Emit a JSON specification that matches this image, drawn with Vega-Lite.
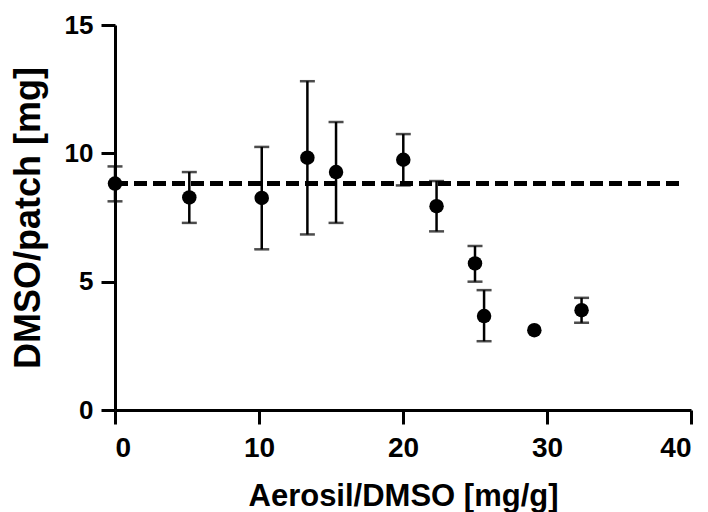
{
  "$schema": "https://vega.github.io/schema/vega-lite/v6.json",
  "width": 576,
  "height": 385,
  "autosize": "none",
  "padding": {"left": 115, "top": 25, "right": 17, "bottom": 102},
  "background": "white",
  "config": {
    "view": {"stroke": null},
    "font": "Liberation Sans",
    "axis": {
      "domainColor": "black",
      "domainWidth": 3,
      "tickColor": "black",
      "tickWidth": 3,
      "tickSize": 14,
      "labelFont": "Liberation Sans",
      "labelFontWeight": "bold",
      "labelFontSize": 28,
      "labelColor": "black",
      "titleFont": "Liberation Sans",
      "titleFontWeight": "bold",
      "titleFontSize": 31,
      "titleColor": "black",
      "grid": false
    }
  },
  "data": {
    "values": [
      {"x": 0, "y": 8.82, "lo": 8.13, "hi": 9.49},
      {"x": 5.16, "y": 8.28, "lo": 7.29, "hi": 9.27},
      {"x": 10.19, "y": 8.26, "lo": 6.26, "hi": 10.25},
      {"x": 13.36, "y": 9.83, "lo": 6.84, "hi": 12.81},
      {"x": 15.35, "y": 9.27, "lo": 7.29, "hi": 11.22},
      {"x": 20.02, "y": 9.75, "lo": 8.75, "hi": 10.75},
      {"x": 22.33, "y": 7.94, "lo": 6.96, "hi": 8.92},
      {"x": 25.0, "y": 5.71, "lo": 5.0, "hi": 6.39},
      {"x": 25.63, "y": 3.66, "lo": 2.68, "hi": 4.67},
      {"x": 29.12, "y": 3.11, "lo": null, "hi": null},
      {"x": 32.4, "y": 3.89, "lo": 3.4, "hi": 4.37}
    ]
  },
  "layer": [
    {
      "mark": {"type": "rule", "strokeWidth": 4, "strokeDash": [13, 6], "color": "black"},
      "encoding": {
        "y": {"datum": 8.82, "type": "quantitative", "scale": {"domain": [0, 15], "nice": false}},
        "x": {"datum": 0, "type": "quantitative", "scale": {"domain": [0, 40], "nice": false}},
        "x2": {"datum": 39.3}
      }
    },
    {
      "transform": [{"filter": "datum.lo != null"}],
      "mark": {"type": "errorbar", "ticks": {"size": 15, "thickness": 2.5, "color": "black"}, "rule": {"strokeWidth": 2.5, "color": "black"}},
      "encoding": {
        "x": {"field": "x", "type": "quantitative", "title": "Aerosil/DMSO [mg/g]"},
        "y": {"field": "lo", "type": "quantitative", "title": "DMSO/patch [mg]"},
        "y2": {"field": "hi"}
      }
    },
    {
      "mark": {"type": "point", "shape": "circle", "filled": true, "size": 210, "color": "black", "opacity": 1},
      "encoding": {
        "x": {
          "field": "x", "type": "quantitative",
          "title": "Aerosil/DMSO [mg/g]",
          "scale": {"domain": [0, 40], "nice": false},
          "axis": {"values": [0, 10, 20, 30, 40], "labelPadding": 10, "titlePadding": 19, "titleFontSize": 31}
        },
        "y": {
          "field": "y", "type": "quantitative",
          "title": "DMSO/patch [mg]",
          "scale": {"domain": [0, 15], "nice": false},
          "axis": {"values": [0, 5, 10, 15], "labelPadding": 8, "labelFontSize": 26, "titlePadding": 17, "titleFontSize": 36}
        }
      }
    }
  ]
}
